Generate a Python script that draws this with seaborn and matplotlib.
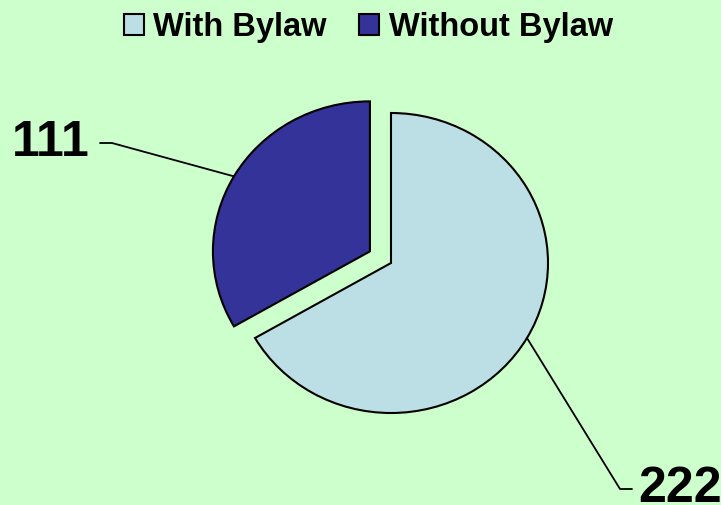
import numpy as np
import matplotlib
matplotlib.use("Agg")
import matplotlib.pyplot as plt
import seaborn as sns

labels = ["With Bylaw", "Without Bylaw"]
values = [222, 111]
colors = ["#BBDFE5", "#333399"]
explode = [0, 0.155]

sns.set_style("white")
plt.rcParams["font.family"] = ["Liberation Sans", "DejaVu Sans"]
plt.rcParams["text.color"] = "black"

W, H = 721, 505
sx = 157 / 150  # pie is drawn a little wider than tall
fig = plt.figure(figsize=(W / 100, H / 100), dpi=100, facecolor="#CCFFCC")
ax = fig.add_axes([0, 0, 1, 1])
ax.set_facecolor("#CCFFCC")
ax.axis("off")

center = (391 / sx, 242)
radius = 150
# matplotlib's explode is in data units, so scale by radius
wedges, _ = ax.pie(values, colors=colors, explode=[e * radius for e in explode],
                   startangle=90, counterclock=False, center=center, radius=radius,
                   wedgeprops={"edgecolor": "black", "linewidth": 1.5})
ax.set_aspect("auto")
ax.set_xlim(0, W / sx)
ax.set_ylim(0, H)

# leader lines from the middle of each wedge edge to the labels
label_pos = [(638, 16, "left"), (90, 362, "right")]
for w, v, (tx, ty, ha) in zip(wedges, values, label_pos):
    mid = np.deg2rad((w.theta1 + w.theta2) / 2)
    cx, cy = w.center
    ex, ey = cx + w.r * np.cos(mid), cy + w.r * np.sin(mid)
    if ha == "left":
        kx, end = tx - 18, tx - 6
    else:
        kx, end = tx + 22, tx + 10
    ax.plot([ex, kx / sx, end / sx], [ey, ty, ty], color="black", lw=1.3)
    ax.text(tx / sx, ty, str(v), ha=ha, va="center", fontsize=36,
            fontweight="bold", color="black")

leg = ax.legend(wedges, labels, loc="upper center", bbox_to_anchor=(0.511, 1.035),
                ncol=2, frameon=False, handlelength=0.6, handleheight=0.6,
                handletextpad=0.3, columnspacing=1.0,
                prop={"weight": "bold", "size": 23.5})
for t in leg.get_texts():
    t.set_color("black")

fig.savefig("out.png", dpi=100, facecolor=fig.get_facecolor())
